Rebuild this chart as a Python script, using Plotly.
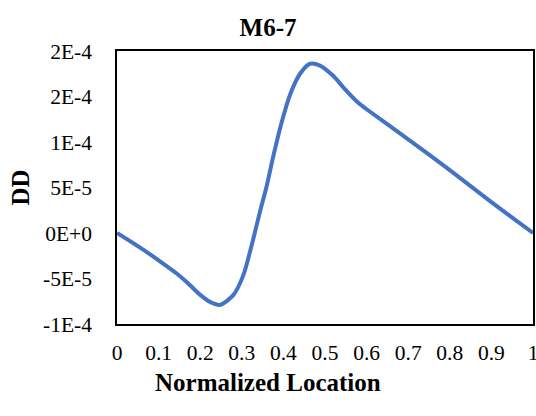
import plotly.graph_objects as go

# Data
location = [0, 0.062, 0.10, 0.142, 0.17, 0.2, 0.225, 0.248, 0.28, 0.304, 0.324,
            0.344, 0.36, 0.376, 0.396, 0.416, 0.44, 0.464, 0.488, 0.519, 0.55,
            0.58, 0.6, 0.7, 0.8, 0.9, 1.0]
dd_e5 = [0, -1.8, -3.0, -4.4, -5.5, -6.8, -7.6, -7.9, -6.8, -4.6, -1.3,
         2.4, 5.2, 8.5, 12.2, 15.2, 17.5, 18.6, 18.4, 17.3, 15.7,
         14.3, 13.6, 10.3, 6.9, 3.4, 0.0]
dd = [v * 1e-5 for v in dd_e5]

x_ticks = [0, 0.1, 0.2, 0.3, 0.4, 0.5, 0.6, 0.7, 0.8, 0.9, 1.0]
x_ticktext = ["0", "0.1", "0.2", "0.3", "0.4", "0.5", "0.6", "0.7", "0.8", "0.9", "1"]
y_ticks = [-1e-4, -5e-5, 0, 5e-5, 1e-4, 1.5e-4, 2e-4]
y_ticktext = ["-1E-4", "-5E-5", "0E+0", "5E-5", "1E-4", "2E-4", "2E-4"]

FONT = "Liberation Serif, Times New Roman, serif"

fig = go.Figure()
fig.add_trace(go.Scatter(
    x=location, y=dd, mode="lines",
    line=dict(color="#4472C4", width=4, shape="spline", smoothing=0.7),
    showlegend=False, hoverinfo="skip",
))

W, H = 536, 416
L, R, T, B = 117, 3, 50.5, 91.7

fig.update_layout(
    width=W, height=H,
    margin=dict(l=L, r=R, t=T, b=B, pad=0, autoexpand=False),
    paper_bgcolor="white", plot_bgcolor="white",
    font=dict(family=FONT, color="black", size=21),
    title=dict(text="<b>M6-7</b>", x=0.5, xref="container", xanchor="center",
               y=1 - 27 / H, yref="container", yanchor="middle",
               font=dict(family=FONT, size=25, color="black")),
    xaxis=dict(range=[0, 1], tickvals=x_ticks, ticktext=x_ticktext,
               showgrid=False, zeroline=False, showline=True, linecolor="black",
               linewidth=1.5, mirror=True, ticks="outside", ticklen=8,
               tickcolor="rgba(0,0,0,0)", ticklabeloverflow="allow",
               automargin=False, tickfont=dict(family=FONT, size=21.5)),
    yaxis=dict(range=[-1e-4, 2e-4], tickvals=y_ticks, ticktext=y_ticktext,
               showgrid=False, zeroline=False, showline=True, linecolor="black",
               linewidth=1.5, mirror=True, ticks="outside", ticklen=19,
               tickcolor="rgba(0,0,0,0)", ticklabeloverflow="allow",
               automargin=False, tickfont=dict(family=FONT, size=21.5)),
    annotations=[
        dict(text="<b>Normalized Location</b>", xref="paper", yref="paper",
             x=(268 - L) / (W - L - R), y=-(383 - (H - B)) / (H - T - B),
             xanchor="center", yanchor="middle", showarrow=False,
             font=dict(family=FONT, size=25, color="black")),
        dict(text="<b>DD</b>", xref="paper", yref="paper",
             x=-(L - 20) / (W - L - R), y=0.5, textangle=-90,
             xanchor="center", yanchor="middle", showarrow=False,
             font=dict(family=FONT, size=25, color="black")),
    ],
)

fig.write_html(
    "out.html",
    config={"displayModeBar": False},
    post_script="document.body.style.margin='0';document.body.style.overflow='hidden';",
)
